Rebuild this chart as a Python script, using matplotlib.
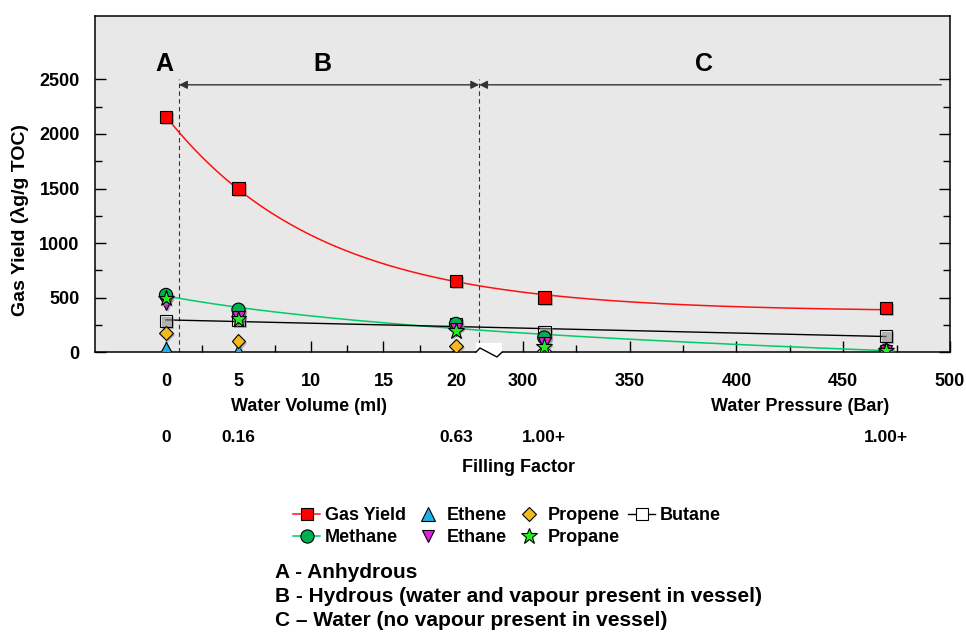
import numpy as np
import matplotlib
matplotlib.use("Agg")
import matplotlib.pyplot as plt
import matplotlib.patheffects as pe
from matplotlib.patches import Rectangle
from matplotlib.ticker import FixedLocator, NullFormatter

plt.rcParams["font.family"] = ["Liberation Sans", "DejaVu Sans"]
plt.rcParams["font.weight"] = "bold"

# ---------------------------------------------------------------
# data
# ---------------------------------------------------------------
water_volume   = [0, 5, 20]        # ml
water_pressure = [310, 470]        # bar
x_vals = water_volume + water_pressure

gas_yield = [2155, 1500, 655, 500, 405]
methane   = [525, 390, 260, 135, 15]
ethene    = [35, 12, 5, 2, 2]
ethane    = [445, 320, 210, 80, 10]
propene   = [175, 105, 55, 15, 5]
propane   = [495, 305, 195, 50, 20]
butane    = [285, 295, 260, 185, 150]

filling_factor = ["0", "0.16", "0.63", "1.00+", "1.00+"]

vol_ticks   = [0, 5, 10, 15, 20]
press_ticks = [300, 350, 400, 450, 500]
vol_minor   = [2.5, 7.5, 12.5, 17.5]
press_minor = [325, 375, 425, 475]
y_major = [0, 500, 1000, 1500, 2000, 2500]
y_minor = [250, 750, 1250, 1750, 2250]

# ---------------------------------------------------------------
# broken x scale: ml (0-20) then bar (300-500)
# ---------------------------------------------------------------
GAP = 4.62      # width of the break, in ml units
K   = 0.14724   # ml units per bar


def fwd(x):
    x = np.asarray(x, dtype=float)
    return np.where(x <= 20, x,
                    np.where(x < 300, 20 + (x - 20) * GAP / 280,
                             20 + GAP + (x - 300) * K))


def inv(u):
    u = np.asarray(u, dtype=float)
    return np.where(u <= 20, u,
                    np.where(u < 20 + GAP, 20 + (u - 20) * 280 / GAP,
                             300 + (u - 20 - GAP) / K))


# ---------------------------------------------------------------
# trend lines fitted to the points
# ---------------------------------------------------------------
u_pts = fwd(x_vals)
u_line = np.linspace(0, u_pts[-1], 400)
x_line = inv(u_line)

best = None
for L in np.linspace(2, 40, 400):
    M = np.column_stack([np.ones_like(u_pts), np.exp(-u_pts / L)])
    coef, *_ = np.linalg.lstsq(M, np.array(gas_yield, float), rcond=None)
    err = np.sum((M @ coef - gas_yield) ** 2)
    if best is None or err < best[0]:
        best = (err, L, coef)
_, L, (A, B) = best
gas_fit = A + B * np.exp(-u_line / L)

best = None
for c in np.linspace(0.3, 20, 400):
    M = np.column_stack([np.ones_like(u_pts), np.log(u_pts + c)])
    coef, *_ = np.linalg.lstsq(M, np.array(methane, float), rcond=None)
    err = np.sum((M @ coef - methane) ** 2)
    if best is None or err < best[0]:
        best = (err, c, coef)
_, c, (a, b) = best
meth_fit = a + b * np.log(u_line + c)

p = np.polyfit(u_pts, butane, 1)
but_fit = np.polyval(p, u_line)

# ---------------------------------------------------------------
# plot
# ---------------------------------------------------------------
fig = plt.figure(figsize=(9.66, 6.32), dpi=100)
ax = fig.add_axes([0.0983, 0.4426, 0.885, 0.532])
ax.set_facecolor("#E8E8E8")
ax.set_xscale("function", functions=(fwd, inv))
ax.set_xlim(-4.9, 500)
ax.set_ylim(0, 3080)

shadow = [pe.SimplePatchShadow(offset=(1.5, -1.5), shadow_rgbFace="0.55", alpha=0.6), pe.Normal()]

ax.plot(x_line, gas_fit, color="#FF1010", lw=1.1, zorder=3)
ax.plot(x_line, meth_fit, color="#00CC66", lw=1.1, zorder=3)
ax.plot(x_line, but_fit, color="black", lw=1.0, zorder=3)

mk = dict(ls="none", mec="black", mew=0.8, zorder=4, path_effects=shadow)
ax.plot(x_vals, butane, marker="s", ms=9, mfc="none", **mk)
ax.plot(x_vals, methane, marker="o", ms=9.5, mfc="#00B050", **mk)
ax.plot(x_vals, ethene, marker="^", ms=9.5, mfc="#20B0E8", **mk)
ax.plot(x_vals, ethane, marker="v", ms=9, mfc="#E020E0", **mk)
ax.plot(x_vals, propene, marker="D", ms=7, mfc="#F5B820", **mk)
ax.plot(x_vals, propane, marker="*", ms=12, mfc="#20F020", **mk)
ax.plot(x_vals, gas_yield, marker="s", ms=9, mfc="#FF0000", **mk)

# legend handles
h_gas, = ax.plot([], [], color="#FF1010", lw=1.1, marker="s", ms=9, mfc="#FF0000", mec="black", mew=0.8)
h_met, = ax.plot([], [], color="#00CC66", lw=1.1, marker="o", ms=9.5, mfc="#00B050", mec="black", mew=0.8)
h_ete, = ax.plot([], [], ls="none", marker="^", ms=9.5, mfc="#20B0E8", mec="black", mew=0.8)
h_eta, = ax.plot([], [], ls="none", marker="v", ms=9, mfc="#E020E0", mec="black", mew=0.8)
h_pre, = ax.plot([], [], ls="none", marker="D", ms=7, mfc="#F5B820", mec="black", mew=0.8)
h_pro, = ax.plot([], [], ls="none", marker="*", ms=12, mfc="#20F020", mec="black", mew=0.8)
h_but, = ax.plot([], [], color="black", lw=1.0, marker="s", ms=9, mfc="white", mec="black", mew=0.8)

# region boundaries and arrows
x_ab = 0.9
x_bc = float(inv(21.6))
x_c_end = 496
y_arrow = 2450
for xb in (x_ab, x_bc):
    ax.plot([xb, xb], [0, 2500], color="#333333", lw=0.8, ls=(0, (4, 3)), zorder=2)
ax.annotate("", xy=(x_ab, y_arrow), xytext=(x_bc, y_arrow),
            arrowprops=dict(arrowstyle="<|-|>", color="#333333", lw=1.0,
                            mutation_scale=12, shrinkA=0, shrinkB=0))
ax.annotate("", xy=(x_bc, y_arrow), xytext=(x_c_end, y_arrow),
            arrowprops=dict(arrowstyle="-|>", color="#333333", lw=1.0,
                            mutation_scale=12, shrinkA=0, shrinkB=0))
ax.text(-0.1, 2640, "A", ha="center", va="center", fontsize=18, fontweight="bold")
ax.text(10.8, 2640, "B", ha="center", va="center", fontsize=18, fontweight="bold")
ax.text(float(inv(37.1)), 2640, "C", ha="center", va="center", fontsize=18, fontweight="bold")

# ticks
ax.xaxis.set_major_locator(FixedLocator(vol_ticks + press_ticks))
ax.xaxis.set_minor_locator(FixedLocator(vol_minor + press_minor))
ax.yaxis.set_major_locator(FixedLocator(y_major))
ax.yaxis.set_minor_locator(FixedLocator(y_minor))
ax.xaxis.set_minor_formatter(NullFormatter())
ax.tick_params(axis="both", which="both", direction="in", right=True, top=False,
               labelsize=13, width=1.0, colors="black")
ax.tick_params(axis="both", which="major", length=8)
ax.tick_params(axis="both", which="minor", length=5)
ax.tick_params(axis="x", pad=15)
ax.tick_params(axis="y", pad=11)
for lab in ax.get_xticklabels() + ax.get_yticklabels():
    lab.set_fontweight("bold")
for s in ax.spines.values():
    s.set_linewidth(1.1)

# axis break on the bottom spine
ax.add_patch(Rectangle((0.4456, -0.01), 0.0304, 0.038, transform=ax.transAxes,
                       facecolor="white", edgecolor="none", clip_on=False, zorder=5))
ax.plot([0.4456, 0.4503, 0.4702, 0.4760], [0, 0.0128, -0.014, 0], transform=ax.transAxes,
        color="black", lw=1.0, clip_on=False, zorder=6)

# axis labels
ax.text(0.25, -0.16, "Water Volume (ml)", transform=ax.transAxes, ha="center", va="center",
        fontsize=13, fontweight="bold")
ax.text(0.8246, -0.16, "Water Pressure (Bar)", transform=ax.transAxes, ha="center", va="center",
        fontsize=13, fontweight="bold")
fig.text(0.021, 0.652, "Gas Yield (λg/g TOC)", rotation=90, ha="center", va="center",
         fontsize=14, fontweight="bold")

# filling factor row
for xv, ff in zip(x_vals, filling_factor):
    ax.text(xv, -0.252, ff, transform=ax.get_xaxis_transform(), ha="center", va="center",
            fontsize=12.5, fontweight="bold")
ax.text(0.4956, -0.344, "Filling Factor", transform=ax.transAxes, ha="center", va="center",
        fontsize=13, fontweight="bold")

fig.legend([h_gas, h_met, h_ete, h_eta, h_pre, h_pro, h_but],
           ["Gas Yield", "Methane", "Ethene", "Ethane", "Propene", "Propane", "Butane"],
           ncol=4, loc="upper center", bbox_to_anchor=(0.525, 0.218), frameon=False,
           prop=dict(weight="bold", size=13), handlelength=1.5, handletextpad=0.25,
           columnspacing=0.5, labelspacing=0.28, borderpad=0.2)

notes = ["A - Anhydrous",
         "B - Hydrous (water and vapour present in vessel)",
         "C \u2013 Water (no vapour present in vessel)"]
for i, t in enumerate(notes):
    fig.text(0.285, 1 - (573 + 23.5 * i) / 632, t, ha="left", va="center",
             fontsize=15, fontweight="bold")

fig.savefig("out.png", dpi=100)
